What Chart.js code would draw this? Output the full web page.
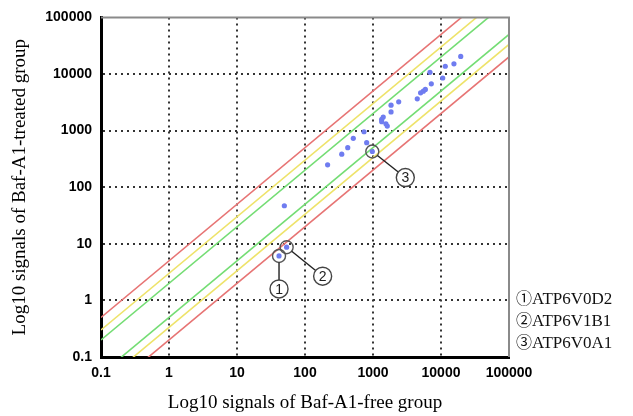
<!DOCTYPE html>
<html>
<head>
<meta charset="utf-8">
<script src="https://cdn.jsdelivr.net/npm/chart.js@4/dist/chart.umd.min.js"></script>
<style>
  body { margin:0; background:#fff; }
  #wrap { position:relative; width:633px; height:416px; }
  #legende { position:absolute; left:516px; top:287px; font-family:"Liberation Serif", serif; font-size:17px; line-height:21px; color:#111; }
  #legende span { font-family:"Noto Sans CJK JP", sans-serif; font-size:16px; }
</style>
</head>
<body>
<div id="wrap">
  <canvas id="scatter" width="633" height="416"></canvas>
  <div id="legende"></div>
</div>
<script>
const axisTicks = [0.1, 1, 10, 100, 1000, 10000, 100000];

// signals: Baf-A1-free (x) vs Baf-A1-treated (y)
const freeSignals = [41.5, 53.7, 49.7, 215, 347, 425, 513, 738, 807, 977,
  1343, 1414, 1343, 1549, 1622, 1842, 1842, 2388, 4478, 5012,
  5500, 5890, 7200, 6890, 10600, 11560, 15500, 19500];
const treatedSignals = [6.1, 8.7, 47, 248, 383, 500, 731, 955, 612, 427,
  1581, 1738, 1436, 1318, 1202, 2138, 2818, 3228, 3648, 4645,
  4977, 5333, 6700, 10700, 8500, 13700, 15100, 20400];

// fold-change guide lines y = k * x
const foldRatios = [5, 3, 2, 0.5, 1/3, 0.2];
const foldColors = ["#e77474", "#eee36a", "#74dd74", "#74dd74", "#eee36a", "#e77474"];

// annotated genes (index into the signal arrays)
const geneIdx = [0, 1, 9];
const geneMarks = ["①", "②", "③"];
const geneNames = ["ATP6V0D2", "ATP6V1B1", "ATP6V0A1"];
const geneLabelShift = [[0, 33], [36, 29], [33, 26]];

const points = freeSignals.map((x, i) => ({x: x, y: treatedSignals[i]}));

const datasets = [{
  type: "scatter",
  data: points,
  pointRadius: 2.6,
  pointBackgroundColor: "#6f7cf0",
  pointBorderWidth: 0,
  order: 0
}];
foldRatios.forEach((k, i) => {
  datasets.push({
    type: "line",
    data: [{x: axisTicks[0], y: axisTicks[0]*k}, {x: axisTicks[axisTicks.length-1], y: axisTicks[axisTicks.length-1]*k}],
    borderColor: foldColors[i],
    borderWidth: 1.6,
    pointRadius: 0,
    fill: false,
    order: 1
  });
});

const cadre = {
  id: "cadre",
  afterDatasetsDraw(chart) {
    const a = chart.chartArea, ctx = chart.ctx;
    ctx.save();
    ctx.strokeStyle = "#8a8a8a";
    ctx.lineWidth = 2;
    ctx.beginPath();
    ctx.moveTo(a.left, a.top);
    ctx.lineTo(a.right, a.top);
    ctx.lineTo(a.right, a.bottom);
    ctx.stroke();

    const sx = chart.scales.x, sy = chart.scales.y;
    geneIdx.forEach((idx, i) => {
      const px = sx.getPixelForValue(freeSignals[idx]);
      const py = sy.getPixelForValue(treatedSignals[idx]);
      const lx = px + geneLabelShift[i][0], ly = py + geneLabelShift[i][1];
      const r1 = 6.5, r2 = 9;
      ctx.strokeStyle = "#555";
      ctx.lineWidth = 1.4;
      ctx.beginPath();
      ctx.arc(px, py, r1, 0, Math.PI*2);
      ctx.stroke();
      const d = Math.hypot(lx-px, ly-py);
      const ux = (lx-px)/d, uy = (ly-py)/d;
      ctx.strokeStyle = "#222";
      ctx.beginPath();
      ctx.moveTo(px + ux*r1, py + uy*r1);
      ctx.lineTo(lx - ux*r2, ly - uy*r2);
      ctx.stroke();
      ctx.strokeStyle = "#444";
      ctx.fillStyle = "#fff";
      ctx.beginPath();
      ctx.arc(lx, ly, r2, 0, Math.PI*2);
      ctx.fill();
      ctx.stroke();
      ctx.fillStyle = "#222";
      ctx.font = "14px 'Liberation Sans'";
      ctx.textAlign = "center";
      ctx.textBaseline = "middle";
      ctx.fillText(String(i+1), lx, ly+1);
    });
    ctx.restore();
  }
};

function tickFont() {
  return {family: "Liberation Sans", size: 14, weight: "bold"};
}

new Chart(document.getElementById("scatter"), {
  type: "scatter",
  data: {datasets: datasets},
  options: {
    responsive: false,
    animation: false,
    layout: {padding: {top: 16, right: 124, left: 0, bottom: 0}},
    plugins: {legend: {display: false}, tooltip: {enabled: false}},
    scales: {
      x: {
        type: "logarithmic", min: 0.1, max: 100000, position: "bottom",
        afterBuildTicks: s => { s.ticks = axisTicks.map(v => ({value: v})); },
        afterFit: s => { s.height = 59; },
        ticks: {callback: v => v.toString(), font: tickFont(), color: "#000", padding: 8, maxRotation: 0, autoSkip: false},
        grid: {color: c => (c.index === 0 || c.index === axisTicks.length-1) ? "rgba(0,0,0,0)" : "#333", lineWidth: 2, drawTicks: false},
        border: {display: true, color: "#000", width: 3, dash: [2, 4]},
        title: {display: true, text: "Log10 signals of Baf-A1-free group", color: "#000",
          font: {family: "Liberation Serif", size: 19}, padding: {top: 0, bottom: 2}}
      },
      y: {
        type: "logarithmic", min: 0.1, max: 100000, position: "left",
        afterBuildTicks: s => { s.ticks = axisTicks.map(v => ({value: v})); },
        afterFit: s => { s.width = 101; },
        ticks: {callback: v => v.toString(), font: tickFont(), color: "#000", padding: 9, autoSkip: false},
        grid: {color: c => (c.index === 0 || c.index === axisTicks.length-1) ? "rgba(0,0,0,0)" : "#333", lineWidth: 2, drawTicks: false},
        border: {display: true, color: "#000", width: 3, dash: [2, 4]},
        title: {display: true, text: "Log10 signals of Baf-A1-treated group", color: "#000",
          font: {family: "Liberation Serif", size: 19}, padding: {top: 9, bottom: 0}}
      }
    }
  },
  plugins: [cadre]
});

const leg = document.getElementById("legende");
geneNames.forEach((n, i) => {
  const div = document.createElement("div");
  const mark = document.createElement("span");
  mark.innerText = geneMarks[i];
  div.appendChild(mark);
  div.appendChild(document.createTextNode(n));
  leg.appendChild(div);
});
</script>
</body>
</html>
